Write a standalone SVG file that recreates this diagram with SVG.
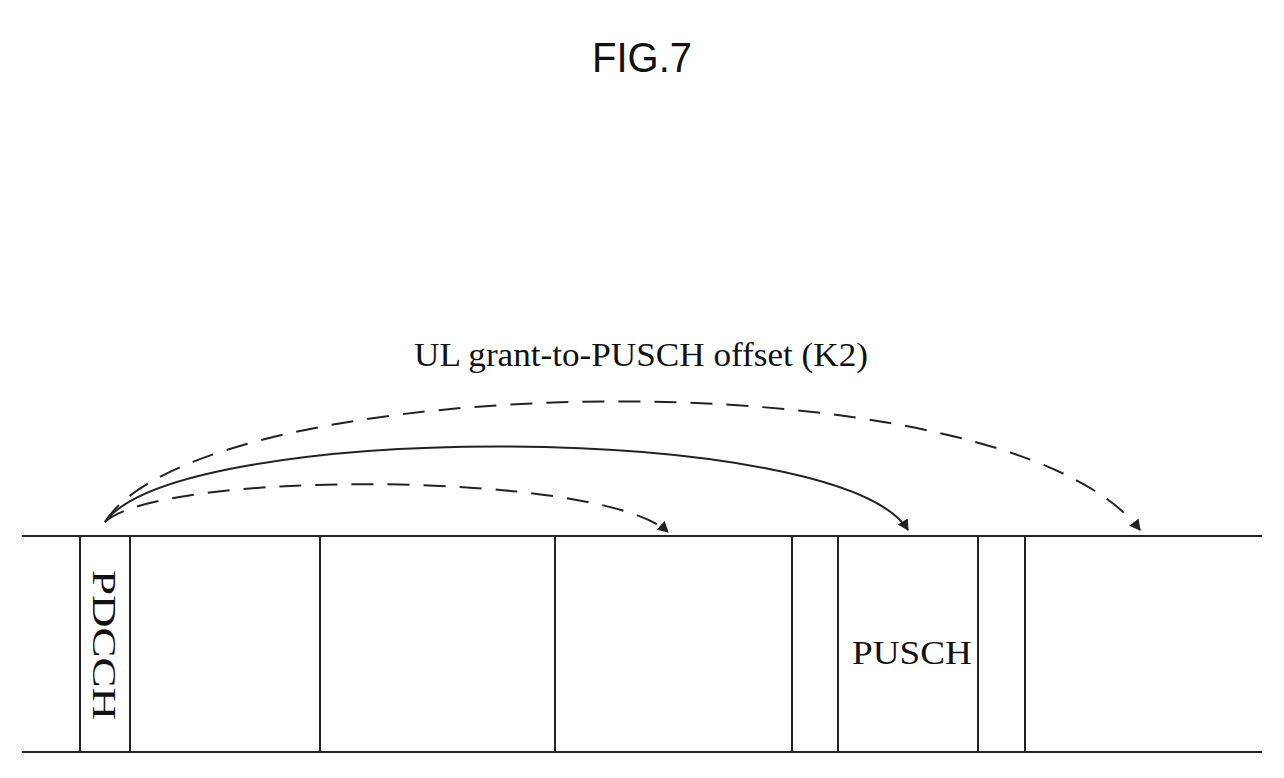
<svg xmlns="http://www.w3.org/2000/svg" width="1284" height="778" viewBox="0 0 1284 778">
<style>
.l{stroke:#222;stroke-width:2;fill:none}
.d{stroke-dasharray:22,14}
.t{font-family:"Liberation Serif",serif;fill:#111}
</style>
<defs><marker id="a" markerWidth="12" markerHeight="12" refX="10" refY="6" orient="auto" markerUnits="userSpaceOnUse"><path d="M0,0 L11,6 L0,12 z" fill="#222"/></marker></defs>
<rect width="1284" height="778" fill="#fff"/>
<text x="642" y="72" text-anchor="middle" style="font-family:'Liberation Sans',sans-serif" fill="#111" font-size="42" textLength="100" lengthAdjust="spacingAndGlyphs">FIG.7</text>
<text class="t" x="641" y="366" text-anchor="middle" font-size="34" textLength="454" lengthAdjust="spacingAndGlyphs">UL grant-to-PUSCH offset (K2)</text>
<g id="frame">
<line class="l" x1="22" y1="536" x2="1262" y2="536"/>
<line class="l" x1="22" y1="752" x2="1262" y2="752"/>
<line class="l" x1="80" y1="536" x2="80" y2="752"/>
<line class="l" x1="130" y1="536" x2="130" y2="752"/>
<line class="l" x1="320" y1="536" x2="320" y2="752"/>
<line class="l" x1="555" y1="536" x2="555" y2="752"/>
<line class="l" x1="792" y1="536" x2="792" y2="752"/>
<line class="l" x1="838" y1="536" x2="838" y2="752"/>
<line class="l" x1="978" y1="536" x2="978" y2="752"/>
<line class="l" x1="1025" y1="536" x2="1025" y2="752"/>
</g>
<g id="pdcch"><text class="t" font-size="34" transform="translate(93,645) rotate(90)" text-anchor="middle" textLength="150" lengthAdjust="spacingAndGlyphs">PDCCH</text></g>
<g id="pusch"><text class="t" x="912" y="664" font-size="34" text-anchor="middle" textLength="120" lengthAdjust="spacingAndGlyphs">PUSCH</text></g>
<g id="connectors">
<path class="l d" d="M105,522 C200,370 1000,350 1140,530" marker-end="url(#a)"/>
<path class="l" d="M105,522 C180,420 840,420 908,530" marker-end="url(#a)"/>
<path class="l d" d="M105,522 C160,470 600,470 668,532" marker-end="url(#a)"/>
</g>
</svg>
